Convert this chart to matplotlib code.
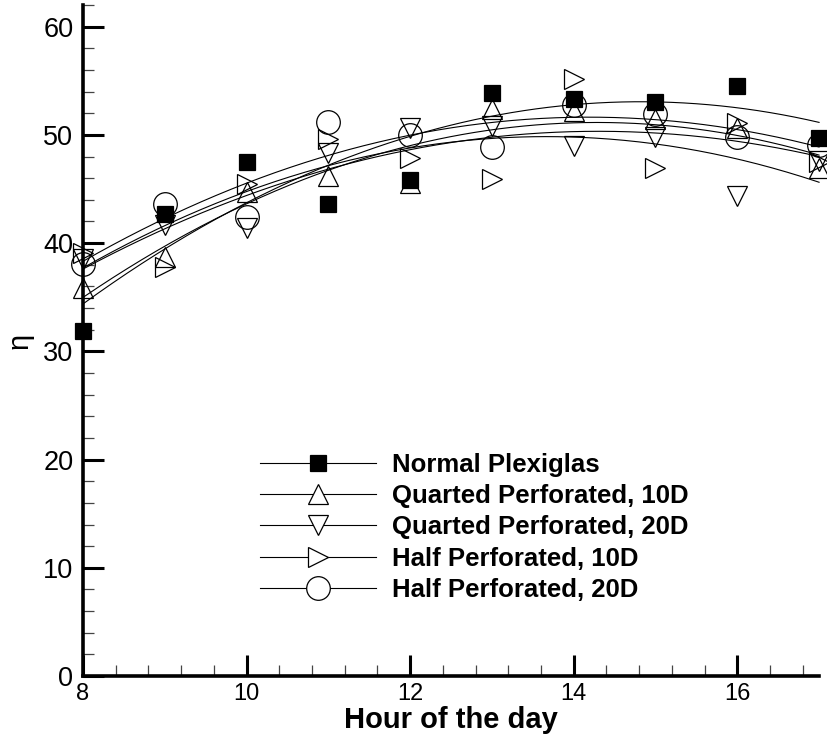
import numpy as np
import matplotlib
matplotlib.use("Agg")
import matplotlib.pyplot as plt
from matplotlib.lines import Line2D
from matplotlib.ticker import MultipleLocator

plt.rcParams['font.family'] = ['Liberation Sans', 'DejaVu Sans']

hours = [8, 9, 10, 11, 12, 13, 14, 15, 16, 17]

normal_plexiglas = [31.9, 42.7, 47.5, 43.6, 45.8, 53.9, 53.3, 53.0, 54.5, 49.7]
quarted_10d = [35.9, 38.7, 44.7, 46.2, 45.6, 52.4, 52.2, 51.5, 50.6, 46.9]
quarted_20d = [38.5, 41.7, 41.4, 48.3, 50.6, 50.8, 49.0, 49.8, 44.4, 47.6]
half_10d = [39.1, 37.8, 45.5, 49.6, 47.9, 45.9, 55.2, 46.9, 51.1, 47.5]
half_20d = [38.1, 43.6, 42.4, 51.2, 50.0, 48.9, 52.8, 51.9, 49.8, 49.1]

labels = ["Normal Plexiglas", "Quarted Perforated, 10D", "Quarted Perforated, 20D",
          "Half Perforated, 10D", "Half Perforated, 20D"]
series = [normal_plexiglas, quarted_10d, quarted_20d, half_10d, half_20d]
markers = ['s', '^', 'v', '>', 'o']
msizes = [12, 15, 15, 15, 17]

fig = plt.figure(figsize=(8.27, 7.42), dpi=100)
ax = fig.add_axes([0.1004, 0.0889, 0.890, 0.9043])

x = np.array(hours, dtype=float)
xf = np.linspace(8, 17, 300)
handles = []
for vals, m, ms, lab in zip(series, markers, msizes, labels):
    y = np.array(vals)
    # second-order curve fit through each data set
    coef = np.polyfit(x, y, 2)
    ax.plot(xf, np.polyval(coef, xf), color='black', lw=0.8, clip_on=False)
    filled = (m == 's')
    ax.plot(x, y, linestyle='none', marker=m, markersize=ms,
            markerfacecolor='black' if filled else 'none',
            markeredgecolor='black', markeredgewidth=0.9, clip_on=False)
    handles.append(Line2D([], [], color='black', lw=0.8, marker=m, markersize=ms,
                          markerfacecolor='black' if filled else 'white',
                          markeredgecolor='black', markeredgewidth=0.9))

ax.set_xlim(8, 17)
ax.set_ylim(0, 62)

for side in ['top', 'right']:
    ax.spines[side].set_visible(False)
ax.spines['left'].set_linewidth(2.6)
ax.spines['bottom'].set_linewidth(2.6)

ax.xaxis.set_major_locator(MultipleLocator(2))
ax.xaxis.set_minor_locator(MultipleLocator(0.4))
ax.yaxis.set_major_locator(MultipleLocator(10))
ax.yaxis.set_minor_locator(MultipleLocator(2))
ax.tick_params(which='major', direction='in', length=15, width=2.2, pad=7)
ax.tick_params(which='minor', direction='in', length=8, width=0.9, color='#444444')
ax.tick_params(axis='y', which='major', labelsize=19.5)
ax.tick_params(axis='x', which='major', labelsize=17, pad=5)

ax.set_xlabel("Hour of the day", fontsize=21, fontweight='bold', labelpad=1)
ax.set_ylabel("η", fontsize=21, labelpad=7)

leg = fig.legend(handles, labels, loc='upper left',
                 bbox_to_anchor=(260 / 827, 1 - 453 / 742),
                 frameon=False, borderpad=0, borderaxespad=0,
                 handlelength=4.5, handletextpad=0.62, labelspacing=0.28,
                 prop={'size': 18.5, 'weight': 'bold'})

fig.savefig("out.png", dpi=100)
